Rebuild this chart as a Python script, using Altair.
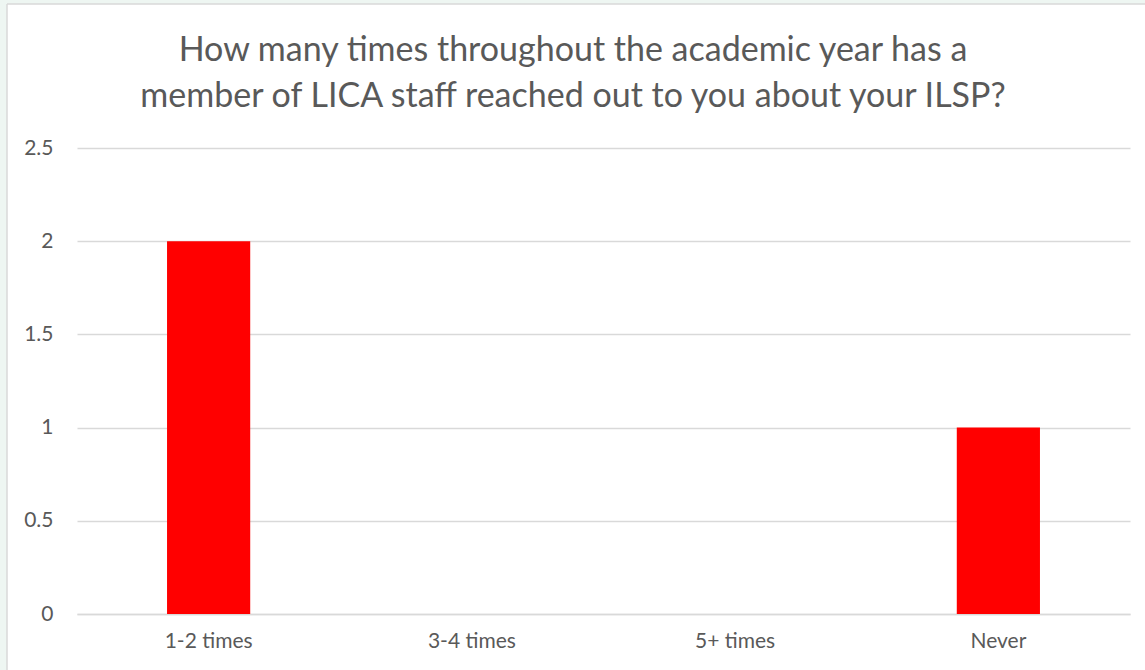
import altair as alt
import pandas as pd

categories = ["1-2 times", "3-4 times", "5+ times", "Never"]
values = [2, 0, 0, 1]
y_ticks = [0, 0.5, 1, 1.5, 2, 2.5]
title_lines = [
    "How many times throughout the academic year has a",
    "member of LICA staff reached out to you about your ILSP?",
]

df = pd.DataFrame({"category": categories, "value": values})

TEXT = "#595959"
GRID = "#D9D9D9"
MINT = "#EEF6F2"
FONT = "Lato"

W, H = 1053, 466

bars = alt.Chart(df).mark_bar(color="#FF0000").encode(
    x=alt.X(
        "category:N",
        sort=categories,
        scale=alt.Scale(paddingInner=0.684, paddingOuter=0.342),
        axis=alt.Axis(
            title=None, labelAngle=0, ticks=False, domain=True,
            domainColor=GRID, domainWidth=1.5,
            labelFont=FONT, labelFontSize=21, labelColor=TEXT, labelPadding=16,
        ),
    ),
    y=alt.Y(
        "value:Q",
        scale=alt.Scale(domain=[0, 2.5], nice=False),
        axis=alt.Axis(
            title=None, values=y_ticks, ticks=False, domain=False, format="~g",
            gridColor=GRID, gridWidth=1.5,
            labelFont=FONT, labelFontSize=21, labelColor=TEXT, labelPadding=24,
        ),
    ),
)

one = alt.Data(values=[{}])
left_strip = alt.Chart(one).mark_rect(color=MINT).encode(
    x=alt.value(-80), x2=alt.value(-70), y=alt.value(-150), y2=alt.value(530)
)
top_strip = alt.Chart(one).mark_rect(color=MINT).encode(
    x=alt.value(-80), x2=alt.value(1080), y=alt.value(-150), y2=alt.value(-144)
)
left_line = alt.Chart(one).mark_rule(color=GRID, strokeWidth=1.5).encode(
    x=alt.value(-70), y=alt.value(-144), y2=alt.value(530)
)
top_line = alt.Chart(one).mark_rule(color=GRID, strokeWidth=1.5).encode(
    x=alt.value(-70), x2=alt.value(1080), y=alt.value(-144)
)
title = alt.Chart(one).mark_text(
    font=FONT, fontSize=34, color=TEXT, align="center",
    baseline="alphabetic", lineHeight=46,
).encode(
    text=alt.value(title_lines), x=alt.value(496), y=alt.value(-87)
)

chart = alt.layer(left_strip, top_strip, left_line, top_line, title, bars).properties(
    width=W,
    height=H,
    autosize=alt.AutoSizeParams(type="none"),
    padding={"left": 77, "top": 148, "right": 15, "bottom": 56},
    background="white",
).configure_view(stroke=None)

chart.save("out.html", embed_options={"renderer": "svg", "actions": False})
